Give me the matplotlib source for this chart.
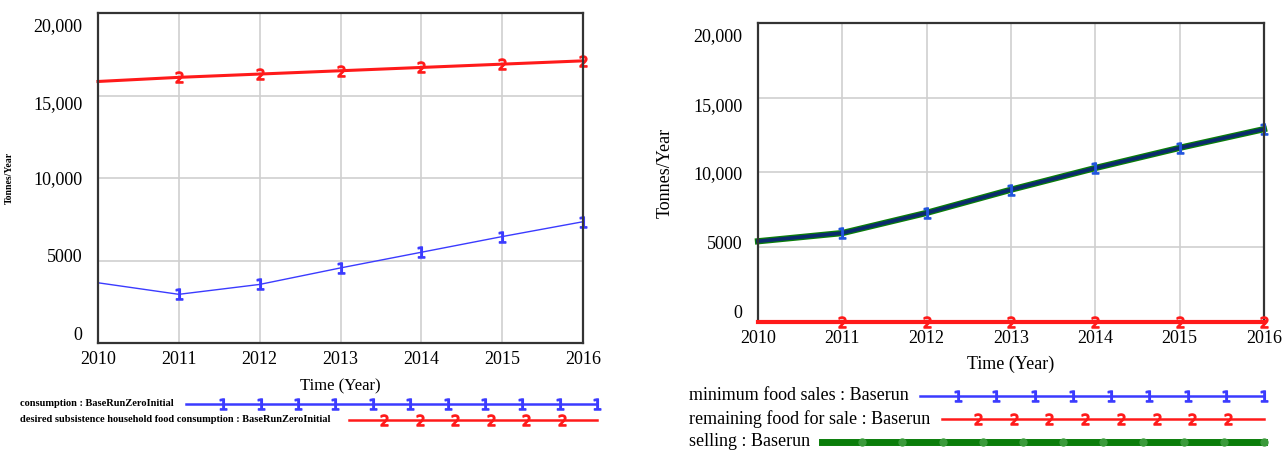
import numpy as np
import matplotlib
matplotlib.use("Agg")
import matplotlib.pyplot as plt
import matplotlib.transforms as mtransforms
from matplotlib.lines import Line2D

plt.rcParams['font.family'] = ['Liberation Serif', 'DejaVu Serif']

years = [2010, 2011, 2012, 2013, 2014, 2015, 2016]
y_ticks = [0, 5000, 10000, 15000, 20000]
y_tick_labels = ['0', '5000', '10,000', '15,000', '20,000']

# left chart
consumption = [3650, 2950, 3550, 4550, 5500, 6450, 7350]
desired_subsistence = [15850, 16100, 16300, 16500, 16700, 16900, 17100]

# right chart
minimum_food_sales = [5400, 5950, 7300, 8850, 10300, 11650, 12900]
remaining_food = [0, 0, 0, 0, 0, 0, 0]
selling = [5400, 5950, 7300, 8850, 10300, 11650, 12900]

BLUE = '#3b3bff'
RED = '#ff1a1a'
GREEN = '#0a7d0a'

fig = plt.figure(figsize=(12.88, 4.55), dpi=100)
W, H = 1288, 455

# vensim squeezes the y labels toward the middle (pixels, + = up)
label_shift = [10, 5, 0, -7, -12]


def style_axes(ax, tick_size):
    ax.set_xlim(2010, 2016)
    ax.set_ylim(0, 20000)
    ax.set_xticks(years)
    ax.set_xticklabels([str(y) for y in years], fontsize=tick_size)
    ax.set_yticks(y_ticks)
    ax.set_yticklabels(y_tick_labels, fontsize=tick_size)
    ax.tick_params(length=0)
    ax.tick_params(axis='y', pad=11)
    ax.tick_params(axis='x', pad=6)
    ax.grid(True, color='#cfcfcf', lw=1.2)
    ax.set_axisbelow(True)
    for s in ax.spines.values():
        s.set_color('#333333')
        s.set_linewidth(1.6)
    for lab, dy in zip(ax.get_yticklabels(), label_shift):
        off = mtransforms.ScaledTranslation(0, dy / 100, fig.dpi_scale_trans)
        lab.set_transform(lab.get_transform() + off)


# ---- left panel ----
ax1 = fig.add_axes([98 / W, 1 - 343 / H, 485 / W, 330 / H])
style_axes(ax1, 13)
ax1.plot(years, consumption, color=BLUE, lw=1.0, clip_on=False)
ax1.plot(years[1:], consumption[1:], ls='none', marker='$1$', ms=8,
         color=BLUE, clip_on=False)
ax1.plot(years, desired_subsistence, color=RED, lw=2.2, clip_on=False)
ax1.plot(years[1:], desired_subsistence[1:], ls='none', marker='$2$', ms=8,
         color=RED, clip_on=False)
ax1.set_xlabel('Time (Year)', fontsize=12, labelpad=7)
ax1.set_ylabel('Tonnes/Year', fontsize=7, fontweight='bold')
ax1.yaxis.set_label_coords((14 - 98) / 485, 0.5)

# ---- right panel ----
ax2 = fig.add_axes([758 / W, 1 - 322 / H, 506 / W, 299 / H])
style_axes(ax2, 13)
ax2.plot(years, selling, color=GREEN, lw=4.5, clip_on=False)
ax2.plot(years, minimum_food_sales, color='#0b2a6e', lw=2.6, clip_on=False)
ax2.plot(years[1:], minimum_food_sales[1:], ls='none', marker='$1$', ms=8,
         color='#2255dd', clip_on=False)
ax2.plot(years, remaining_food, color=RED, lw=3, clip_on=False, zorder=5)
ax2.plot(years[1:], remaining_food[1:], ls='none', marker='$2$', ms=8,
         color=RED, clip_on=False, zorder=6)
ax2.set_xlabel('Time (Year)', fontsize=13, labelpad=6)
ax2.set_ylabel('Tonnes/Year', fontsize=13, labelpad=14)


def legend_row(text, x_text, x0, x1, y, color, marker, n_marks, lw, fs,
               mcolor=None, ms=8, weight='normal'):
    fig.text(x_text / W, 1 - y / H, text, fontsize=fs, va='center', ha='left',
             fontweight=weight)
    fig.add_artist(Line2D([x0 / W, x1 / W], [1 - y / H, 1 - y / H],
                          color=color, lw=lw, transform=fig.transFigure))
    xs = np.linspace(x0, x1, n_marks + 2)[1:]
    if marker == '$2$':
        xs = xs[:-1]
    fig.add_artist(Line2D(xs / W, np.full(len(xs), 1 - y / H), ls='none',
                          marker=marker, ms=ms, color=mcolor or color,
                          transform=fig.transFigure))


# left legend
legend_row('consumption : BaseRunZeroInitial', 20, 186, 597, 404,
           BLUE, '$1$', 10, 1.8, 7.5, weight='bold')
legend_row('desired subsistence household food consumption : BaseRunZeroInitial',
           20, 349, 597, 420, RED, '$2$', 6, 1.8, 7.5, weight='bold')

# right legend
legend_row('minimum food sales : Baserun', 689, 920, 1264, 396,
           BLUE, '$1$', 8, 1.8, 13)
legend_row('remaining food for sale : Baserun', 689, 942, 1264, 419,
           RED, '$2$', 8, 1.8, 13)
legend_row('selling : Baserun', 689, 822, 1264, 442,
           GREEN, 'o', 10, 5, 13, mcolor='#3a9a3a', ms=5)

fig.savefig('out.png', dpi=100)
